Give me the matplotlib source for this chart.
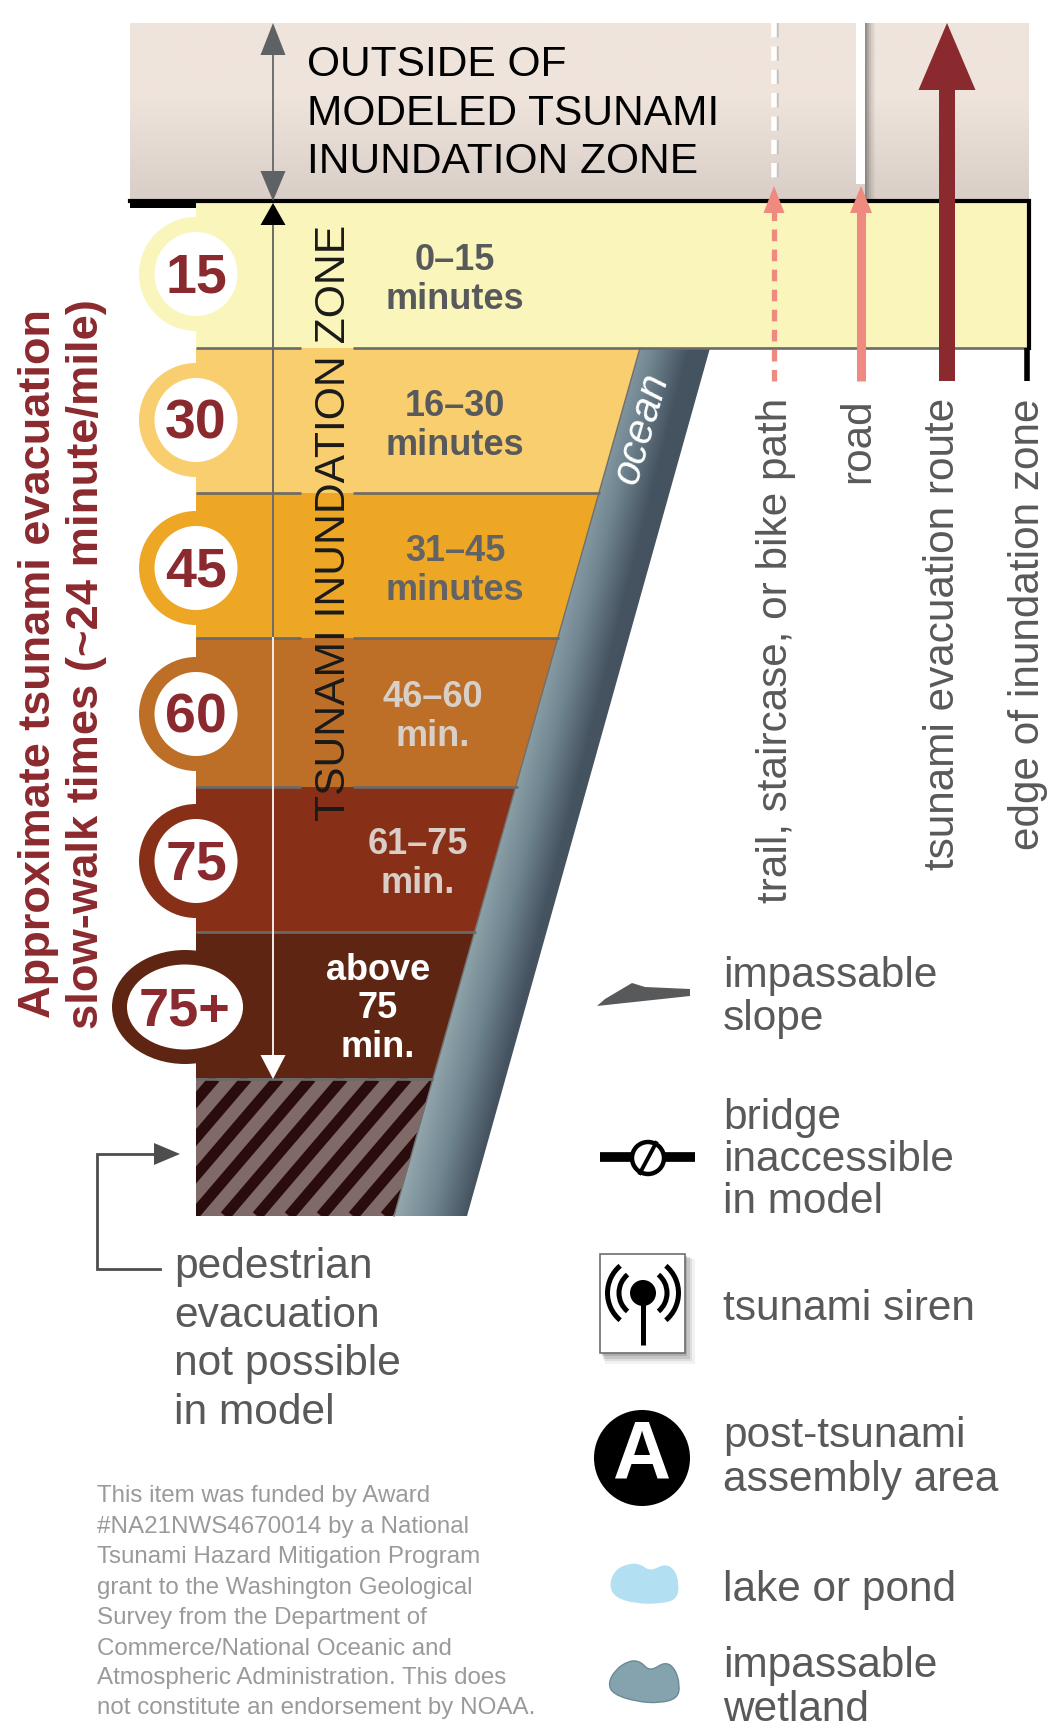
import numpy as np
import matplotlib
matplotlib.use('Agg')
import matplotlib.pyplot as plt
from matplotlib.patches import Polygon, Circle, Ellipse, Rectangle, PathPatch, Arc
from matplotlib.path import Path

plt.rcParams['font.family'] = ['Liberation Sans', 'DejaVu Sans']

# bands, top to bottom
band_tops = [202, 349, 494, 639, 788, 933]
band_bottoms = [349, 494, 639, 788, 933, 1080]
band_right = [1029, 640, 600, 559, 518, 476]
band_right_low = [1029, 600, 559, 518, 476, 433]
band_colors = ['#faf5bb', '#f8ce6e', '#eda724', '#bd6e27', '#883017', '#5f2513']
badge_labels = ['15', '30', '45', '60', '75', '75+']
badge_y = [275, 421, 569, 715, 862, 1008]
range_labels = ['0–15\nminutes', '16–30\nminutes', '31–45\nminutes', '46–60\nmin.', '61–75\nmin.', 'above\n75\nmin.']
range_x = [455, 455, 455, 433, 418, 378]
range_y = [280, 426, 571, 717, 864, 1009]
range_colors = ['#58595b', '#58595b', '#636365', '#d8d0c8', '#d9cdc6', '#ffffff']

route_labels = ['trail, staircase, or bike path', 'road', 'tsunami evacuation route', 'edge of inundation zone']
route_x = [776, 858, 943, 1028]

left_title = ['Approximate tsunami evacuation', 'slow-walk times (~24 minute/mile)']
outside_lines = ['OUTSIDE OF', 'MODELED TSUNAMI', 'INUNDATION ZONE']
pedestrian_lines = ['pedestrian', 'evacuation', 'not possible', 'in model']
credit_lines = ['This item was funded by Award',
                '#NA21NWS4670014 by a National',
                'Tsunami Hazard Mitigation Program',
                'grant to the Washington Geological',
                'Survey from the Department of',
                'Commerce/National Oceanic and',
                'Atmospheric Administration. This does',
                'not constitute an endorsement by NOAA.']
credit_y = [1496, 1527, 1557, 1588, 1618, 1649, 1678, 1708]

legend_text = [('impassable', 976), ('slope', 1019),
               ('bridge', 1118), ('inaccessible', 1160), ('in model', 1202),
               ('tsunami siren', 1309),
               ('post-tsunami', 1436), ('assembly area', 1480),
               ('lake or pond', 1590),
               ('impassable', 1666), ('wetland', 1710)]

GREY = '#58595b'
RED = '#8b2a2e'
PINK = '#ee8a80'

fig = plt.figure(figsize=(10.48, 17.33), dpi=100)
ax = fig.add_axes([0, 0, 1, 1])
ax.set_xlim(0, 1048)
ax.set_ylim(1733, 0)
ax.axis('off')


def head(x, tip, base, half, color, z=6):
    ax.add_patch(Polygon([(x, tip), (x - half, base), (x + half, base)], fc=color, ec='none', zorder=z))


def blob(pts, fc, ec='none'):
    # rounded closed shape from the picked outline points
    pts = np.array(pts, dtype=float)
    mids = (pts + np.roll(pts, -1, axis=0)) / 2
    verts = [mids[-1]]
    codes = [Path.MOVETO]
    for p, m in zip(pts, mids):
        verts += [p, m]
        codes += [Path.CURVE3, Path.CURVE3]
    ax.add_patch(PathPatch(Path(verts, codes), fc=fc, ec=ec, lw=1, zorder=5))


# top box
grad = np.array([[0.0]] * 70 + [[v] for v in np.linspace(0, 1, 100)])
ax.imshow(grad, extent=(130, 1029, 203, 24), aspect='auto', zorder=1,
          cmap=matplotlib.colors.LinearSegmentedColormap.from_list('b', ['#efe4dc', '#d8cec7']))

# bands
for i in range(6):
    t, b = band_tops[i], band_bottoms[i]
    ax.add_patch(Polygon([(196, t), (band_right[i], t), (band_right_low[i], b), (196, b)],
                         fc=band_colors[i], ec='none', zorder=2))

# badges
for i in range(6):
    y = badge_y[i]
    if badge_labels[i] == '75+':
        ax.add_patch(Ellipse((185, y), 146, 114, fc=band_colors[i], ec='none', zorder=3))
        ax.add_patch(Ellipse((185, y), 116, 85, fc='white', ec='none', zorder=4))
        ax.text(185, y + 3, badge_labels[i], ha='center', va='center', fontsize=39, fontweight='bold', color=RED, zorder=5)
    else:
        ax.add_patch(Ellipse((196, y), 114, 114, fc=band_colors[i], ec='none', zorder=3))
        ax.add_patch(Ellipse((196, y), 83, 84, fc='white', ec='none', zorder=4))
        ax.text(196, y + 3, badge_labels[i], ha='center', va='center', fontsize=40, fontweight='bold', color=RED, zorder=5)

# hatched block
hatch = Polygon([(196, 1079), (433, 1079), (394, 1217), (196, 1217)], fc='#806a68', ec='none', zorder=2)
ax.add_patch(hatch)
for x0 in np.arange(65, 480, 32):
    ln, = ax.plot([x0, x0 + 118], [1217, 1079], color='#2a0c0c', lw=8, solid_capstyle='butt', zorder=3)
    ln.set_clip_path(hatch)

# ocean wedge
oy, ox = np.mgrid[349:1218, 380:712]
left = 640 - (oy - 349) * (640 - 394) / 868
right = 710 - (oy - 349) * (710 - 467) / 868
frac = np.clip((ox - left) / (right - left) + 0.3 * (1217 - oy) / 868, 0, 1)
ocean_map = matplotlib.colors.LinearSegmentedColormap.from_list('o', ['#94a7ad', '#6f8590', '#45525f'])
ocean = ax.imshow(frac, extent=(380, 712, 1218, 349), aspect='auto', cmap=ocean_map, zorder=3)
wedge = Polygon([(640, 349), (710, 349), (467, 1217), (394, 1217)], fc='none', ec='none', zorder=3)
ax.add_patch(wedge)
ocean.set_clip_path(wedge)
ax.plot([640, 394], [349, 1217], color='#6f6f6f', lw=1, zorder=4)
ax.text(642, 428, 'ocean', rotation=74, rotation_mode='anchor', ha='center', va='center', fontsize=30,
        style='italic', color='white', zorder=6)

# band dividers, broken behind the vertical label on the upper four
for i in range(6):
    y = band_bottoms[i]
    xr = band_right_low[i] if i > 0 else 1029
    if i < 4:
        ax.plot([196, 301], [y, y], color='#6a6a6a', lw=1.9, zorder=5, solid_capstyle='butt')
        ax.plot([353, xr], [y, y], color='#6a6a6a', lw=1.9, zorder=5, solid_capstyle='butt')
    else:
        ax.plot([196, xr], [y, y], color='#6a6a6a', lw=1.9, zorder=5, solid_capstyle='butt')

# black edge of zone
ax.plot([130, 1029, 1029], [202, 202, 349], color='black', lw=3, zorder=5, solid_joinstyle='miter')
ax.add_patch(Rectangle((130, 202), 66, 7, fc='black', ec='none', zorder=5))
ax.plot([1027, 1027], [349, 382], color='black', lw=4, zorder=5, solid_capstyle='butt')

# vertical double arrow, outside then inside
ax.plot([273, 273], [40, 180], color='#666666', lw=1.3, zorder=6)
head(273, 24, 56, 12.5, '#5f6264')
head(273, 202, 172, 12.5, '#5f6264')
ax.plot([273, 273], [225, 639], color='#6a6a6a', lw=1.4, zorder=6)
ax.plot([273, 273], [639, 1060], color='#f1ece8', lw=1.4, zorder=6)
head(273, 204, 226, 12.5, 'black')
head(273, 1080, 1056, 12.5, 'white')

ax.text(334, 523, 'TSUNAMI INUNDATION ZONE', rotation=90, ha='center', va='center', fontsize=30.7, color='#1a1a1a', zorder=7)

for name, y in zip(outside_lines, [65, 114, 162]):
    ax.text(307, y, name, ha='left', va='center', fontsize=30.6, color='black', zorder=7)

for i in range(6):
    ax.text(range_x[i], range_y[i], range_labels[i], ha='center', va='center', fontsize=26, fontweight='bold',
            color=range_colors[i], linespacing=1.14, zorder=7)

# routes
ax.plot([776, 776], [24, 185], color='#c9c0ba', lw=4, ls=(0, (2.6, 1.6)), zorder=4)
ax.plot([774, 774], [24, 185], color='#ffffff', lw=4, ls=(0, (2.6, 1.6)), zorder=5)
ax.plot([774, 774], [210, 382], color=PINK, lw=3.8, ls=(0, (2.2, 1.6)), zorder=5)
head(774, 187, 214, 10.5, PINK)
for k, al in enumerate([0.7, 0.5, 0.32, 0.18, 0.08]):
    ax.add_patch(Rectangle((865 + 2 * k, 24), 2, 176, fc='#6f6864', ec='none', alpha=al, zorder=4))
ax.add_patch(Rectangle((856, 24), 9, 161, fc='white', ec='none', zorder=5))
ax.plot([861, 861], [205, 382], color=PINK, lw=6.5, zorder=5, solid_capstyle='butt')
head(861, 187, 214, 11, PINK)
ax.add_patch(Rectangle((939, 85), 16, 297, fc=RED, ec='none', zorder=5))
head(947, 24, 91, 28.5, RED)

for x, name in zip(route_x, route_labels):
    ax.text(x, 398, name, rotation=90, ha='center', va='top', fontsize=30.4, color=GREY, zorder=7)

# left heading
ax.text(39, 664, left_title[0], rotation=90, ha='center', va='center', fontsize=32.5, fontweight='bold', color=RED)
ax.text(87, 664, left_title[1], rotation=90, ha='center', va='center', fontsize=32.7, fontweight='bold', color=RED)

# pedestrian note
ax.plot([160, 97, 97, 160], [1270, 1270, 1155, 1155], color='#4d4d4d', lw=2, zorder=3, solid_joinstyle='miter')
ax.add_patch(Polygon([(180, 1155), (154, 1144), (154, 1166)], fc='#4d4d4d', ec='none'))
for name, y in zip(pedestrian_lines, [1267, 1316, 1364, 1413]):
    ax.text(174, y, name, ha='left', va='center', fontsize=30.6, color=GREY)

for name, y in zip(credit_lines, credit_y):
    ax.text(97, y, name, ha='left', va='center', fontsize=17.4, color='#9a9a9c')

# legend text
for name, y in legend_text:
    ax.text(723, y, name, ha='left', va='center', fontsize=30.5, color=GREY)

# legend icons
ax.add_patch(Polygon([(597, 1007), (605, 1000), (632, 984), (645, 988), (690, 990), (690, 997)], fc=GREY, ec='none'))

ax.plot([600, 695], [1158, 1158], color='black', lw=7, solid_capstyle='butt', zorder=3)
ax.add_patch(Circle((648, 1159), 16, fc='white', ec='black', lw=3.2, zorder=4))
ax.plot([640, 656], [1174, 1144], color='black', lw=2.8, zorder=5)

for k, al in enumerate([0.3, 0.22, 0.15, 0.1]):
    ax.add_patch(Rectangle((602 + k, 1257 + k), 85 + 1.5 * k, 100 + 1.5 * k, fc='#777777', ec='none', alpha=al, zorder=2))
ax.add_patch(Rectangle((600, 1255), 85, 99, fc='white', ec='#6d6e70', lw=1.2, zorder=3))
ax.add_patch(Circle((643, 1294), 13, fc='black', ec='none', zorder=4))
ax.plot([643, 643], [1294, 1346], color='black', lw=3.6, solid_capstyle='butt', zorder=4)
for d in (48, 71):
    ax.add_patch(Arc((643, 1294), d, d, theta1=-50, theta2=50, color='black', lw=3.6, zorder=4))
    ax.add_patch(Arc((643, 1294), d, d, theta1=130, theta2=230, color='black', lw=3.6, zorder=4))

ax.add_patch(Circle((642, 1459), 48, fc='black', ec='none', zorder=3))
ax.text(642, 1457, 'A', ha='center', va='center', fontsize=58, fontweight='bold', color='white', zorder=4)

lake = [(147, 1135), (165, 1090), (205, 1072), (240, 1072), (270, 1095), (315, 1072), (345, 1090), (358, 1135),
        (350, 1178), (300, 1190), (230, 1190), (165, 1172)]
wet = [(144, 1425), (165, 1385), (205, 1358), (240, 1358), (270, 1390), (315, 1360), (345, 1380), (360, 1430),
       (352, 1468), (300, 1482), (230, 1478), (160, 1456)]
blob([(560 + a / 3, 1200 + b / 2.94) for a, b in lake], '#b3dff3')
blob([(560 + a / 3, 1200 + b / 2.94) for a, b in wet], '#84a3ae', ec='#6a8a96')

ax.set_xlim(0, 1048)
ax.set_ylim(1733, 0)
fig.savefig('out.png', dpi=100)
